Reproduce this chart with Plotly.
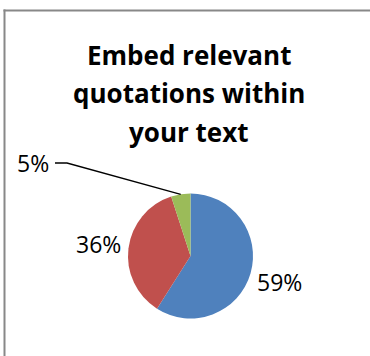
import math
import plotly.graph_objects as go

# Data
categories = ["A", "B", "C"]
values = [59, 36, 5]
label_texts = ["59%", "36%", "5%"]
colors = ["#4F81BD", "#C0504D", "#9BBB59"]
title_lines = ["Embed relevant", "quotations within", "your text"]

W, H = 370, 356
cx, cy, R = 190.5, 256.0, 62.5  # pie centre/radius in pixels


def px(x):
    return x / W


def py(y):
    return 1 - y / H


fig = go.Figure(go.Pie(
    labels=categories,
    values=values,
    sort=False,
    direction="clockwise",
    rotation=0,
    textinfo="none",
    hoverinfo="label+percent",
    marker=dict(colors=colors, line=dict(width=0)),
    domain=dict(x=[px(cx - R), px(cx + R)], y=[py(cy + R), py(cy - R)]),
    showlegend=False,
))

annotations = []
# title lines
title_y = [55, 93.5, 132]
for t, yy in zip(title_lines, title_y):
    annotations.append(dict(
        text=f"<b>{t}</b>", x=px(189), y=py(yy), xref="paper", yref="paper",
        xanchor="center", yanchor="middle", showarrow=False,
        font=dict(family="Open Sans", size=26, color="#000000")))

# data labels computed from slice mid-angles
total = sum(values)
cum = 0
mids = []
for v in values:
    mids.append((cum + v / 2) / total * 2 * math.pi)
    cum += v

shapes = []
for i, (txt, a) in enumerate(zip(label_texts, mids)):
    ex, ey = cx + R * math.sin(a), cy - R * math.cos(a)
    if i < 2:
        lx, ly = cx + 1.49 * R * math.sin(a), cy - 1.49 * R * math.cos(a)
    else:
        lx, ly = 33, 163
        path = (f"M {px(55)},{py(163)} L {px(67)},{py(163)} "
                f"L {px(ex)},{py(ey)}")
        shapes.append(dict(type="path", path=path, xref="paper", yref="paper",
                           line=dict(color="#000000", width=1.3)))
    annotations.append(dict(
        text=txt, x=px(lx), y=py(ly), xref="paper", yref="paper",
        xanchor="center", yanchor="middle", showarrow=False,
        font=dict(family="Open Sans", size=23, color="#000000")))

# chart border (only top and left edges visible in crop)
border = dict(color="#888888", width=2)
shapes.append(dict(type="line", xref="paper", yref="paper",
                   x0=px(3.5), x1=1, y0=py(10.5), y1=py(10.5), line=border))
shapes.append(dict(type="line", xref="paper", yref="paper",
                   x0=px(4.5), x1=px(4.5), y0=py(9.5), y1=0, line=border))

fig.update_layout(
    width=W, height=H,
    margin=dict(l=0, r=0, t=0, b=0),
    paper_bgcolor="#ffffff",
    plot_bgcolor="#ffffff",
    annotations=annotations,
    shapes=shapes,
)

fig.write_html("out.html")
